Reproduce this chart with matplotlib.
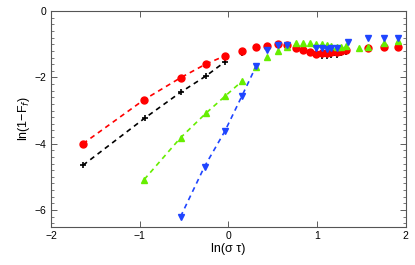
import numpy as np
import matplotlib
matplotlib.use('Agg')
import matplotlib.pyplot as plt
from matplotlib.ticker import MultipleLocator

plt.rcParams['font.family'] = ['Liberation Sans', 'DejaVu Sans']

# red circles
red_fit_x = [-1.64, -0.95, -0.54, -0.25, -0.04]
red_fit_y = [-4.00, -2.67, -2.01, -1.59, -1.35]
red_x = [0.15, 0.31, 0.43, 0.555, 0.66, 0.76, 0.84, 0.92, 0.99, 1.05, 1.11, 1.16, 1.22, 1.27, 1.33, 1.57, 1.75, 1.91]
red_y = [-1.19, -1.07, -1.04, -1.00, -1.02, -1.10, -1.17, -1.22, -1.28, -1.27, -1.25, -1.23, -1.22, -1.20, -1.18, -1.10, -1.09, -1.07]

# black plus
blk_fit_x = [-1.64, -0.94, -0.54, -0.25, -0.04]
blk_fit_y = [-4.65, -3.22, -2.45, -1.95, -1.53]
blk_x = [0.15, 0.31, 0.43, 0.555, 0.66, 0.76, 0.84, 0.92, 0.99, 1.05, 1.11, 1.16, 1.22, 1.27, 1.33]
blk_y = [-1.27, -1.12, -1.06, -1.03, -1.05, -1.13, -1.20, -1.26, -1.32, -1.35, -1.34, -1.32, -1.33, -1.27, -1.22]

# green up-triangles
grn_fit_x = [-0.95, -0.54, -0.25, -0.04, 0.15]
grn_fit_y = [-5.08, -3.82, -3.07, -2.57, -2.12]
grn_x = [0.31, 0.44, 0.555, 0.66, 0.76, 0.84, 0.92, 0.99, 1.05, 1.11, 1.16, 1.22, 1.27, 1.33, 1.47, 1.57, 1.75, 1.91]
grn_y = [-1.70, -1.39, -1.20, -1.07, -0.97, -0.97, -0.95, -0.98, -1.00, -1.03, -1.05, -1.08, -1.07, -1.06, -1.10, -1.07, -0.97, -0.90]

# blue down-triangles
blu_fit_x = [-0.54, -0.27, -0.04, 0.15, 0.31]
blu_fit_y = [-6.20, -4.69, -3.62, -2.57, -1.67]
blu_x = [0.44, 0.555, 0.66, 0.99, 1.05, 1.11, 1.16, 1.22, 1.35, 1.57, 1.75, 1.91]
blu_y = [-1.17, -1.02, -1.02, -1.12, -1.12, -1.13, -1.12, -1.10, -0.92, -0.82, -0.82, -0.82]

RED = '#ff0000'
BLK = '#000000'
GRN = '#66ee00'
BLU = '#1f45ff'

fig = plt.figure(figsize=(4.15, 2.65), dpi=100)
ax = fig.add_axes([0.123, 0.145, 0.855, 0.813])

ms = 5
dash = (3, 2.5)
ax.plot(blk_fit_x, blk_fit_y, color=BLK, lw=1.2, marker='+', ms=ms, mew=1.2, dashes=dash, zorder=2)
ax.plot(blk_x, blk_y, '+', color=BLK, ms=ms, mew=1.2, ls='none', zorder=2)
ax.plot(red_fit_x, red_fit_y, color=RED, lw=1.2, marker='o', ms=ms, dashes=dash, zorder=3)
ax.plot(red_x, red_y, 'o', color=RED, ms=ms, ls='none', zorder=3)
ax.plot(grn_fit_x, grn_fit_y, color=GRN, lw=1.2, marker='^', ms=ms, dashes=dash, zorder=4)
ax.plot(grn_x, grn_y, '^', color=GRN, ms=ms, ls='none', zorder=4)
ax.plot(blu_fit_x, blu_fit_y, color=BLU, lw=1.2, marker='v', ms=ms, dashes=dash, zorder=5)
ax.plot(blu_x, blu_y, 'v', color=BLU, ms=ms, ls='none', zorder=5)

ax.set_xlim(-2, 2)
ax.set_ylim(-6.5, 0)
ax.set_xticks([-2, -1, 0, 1, 2])
ax.set_yticks([-6, -4, -2, 0])
ax.yaxis.set_minor_locator(MultipleLocator(0.2))
ax.tick_params(which='both', direction='in', top=True, right=True, labelsize=7.5, color='#444444')
ax.tick_params(which='major', length=4, width=0.6)
ax.tick_params(which='minor', length=2, width=0.5)
for s in ax.spines.values():
    s.set_color('#555555')
    s.set_linewidth(0.8)
ax.set_xticklabels(['\u22122', '\u22121', '0', '1', '2'])
ax.set_yticklabels(['\u22126', '\u22124', '\u22122', '0'])

ax.set_xlabel('ln(\u03c3 \u03c4)', fontsize=9, labelpad=1)
ax.set_ylabel('ln(1\u2212F$_f$)', fontsize=9, labelpad=2)

fig.savefig('out.png', dpi=100)
